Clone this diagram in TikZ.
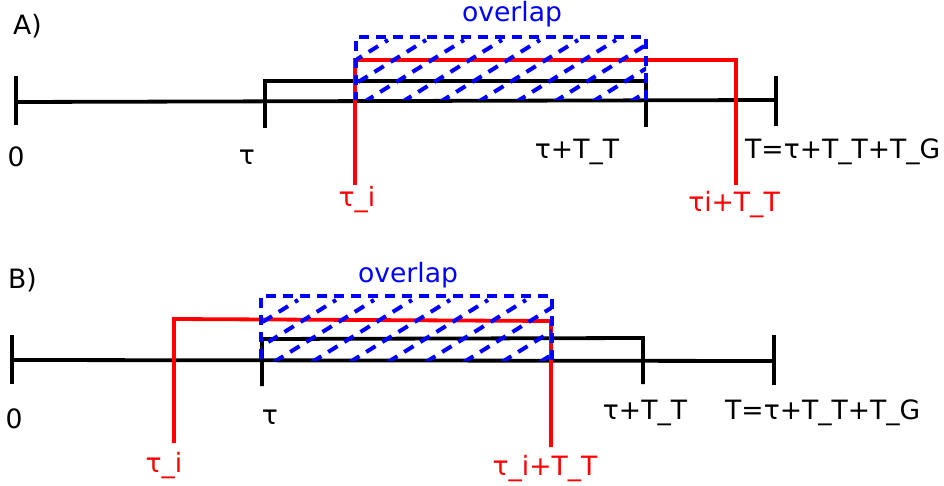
\documentclass[tikz,border=0pt]{standalone}
\usepackage{fontspec}
\setmainfont{DejaVu Sans}
\begin{document}
\begin{tikzpicture}[x=1pt,y=-1pt,
  axis/.style={line width=3.8pt,black},
  win/.style={line width=3.8pt,red},
  ovl/.style={line width=3.8pt,blue,dash pattern=on 10pt off 7pt},
  hatch/.style={line width=4pt,blue,dash pattern=on 11pt off 8pt},
  lbl/.style={font=\fontsize{26.6}{30}\selectfont,inner sep=0pt,anchor=base},
  lblw/.style={lbl,anchor=base west},
]
\useasboundingbox (0,0) rectangle (944,486);

% ---------- panel A ----------
\coordinate (a0) at (16,102);
\coordinate (aE) at (776,100);
\coordinate (a0t) at (16,76);   \coordinate (a0b) at (16,125);
\coordinate (atb) at (265,128); \coordinate (att) at (265,81);
\coordinate (aTt) at (646,81);  \coordinate (aTb) at (646,127);
\coordinate (aEt) at (776,76);  \coordinate (aEb) at (776,126);
\draw[axis] (a0) -- (aE);
\draw[axis] (a0t) -- (a0b);
\draw[axis] (atb) -- (att) -- (aTt) -- (aTb);
\draw[axis] (aEt) -- (aEb);

% transmission window of node i
\coordinate (ai1) at (355,185); \coordinate (ai2) at (355,60);
\coordinate (ai3) at (736,60);  \coordinate (ai4) at (736,185);
\draw[win] (ai1) -- (ai2) -- (ai3) -- (ai4);

% overlap region
\coordinate (ao1) at (356,37); \coordinate (ao2) at (646,100);
\begin{scope}
  \clip (ao1) rectangle (ao2);
  \foreach \s in {250,288,...,650} \draw[hatch] (\s,102) -- ++(100,-62);
\end{scope}
\draw[ovl] (ao2) -- (ao2 |- ao1) -- (ao1) -- (ao1 |- ao2);

\node[lblw] (la) at (13,35) {A)};
\node[lbl] (la0) at (16,167) {0};
\node[lbl] (lat) at (247,165) {τ};
\node[lbl] (laT) at (577,159) {τ+T\_T};
\node[lblw] (laE) at (745,159) {T=τ+T\_T+T\_G};
\node[lbl,text=red] (lai) at (357,207) {τ\_i};
\node[lbl,text=red] (laiT) at (734,212) {τi+T\_T};
\node[lbl,text=blue] (lao) at (512,22) {overlap};

% ---------- panel B ----------
\coordinate (b0) at (12,360);
\coordinate (bE) at (774,361);
\coordinate (b0t) at (12,335);  \coordinate (b0b) at (12,384);
\coordinate (btb) at (262,386); \coordinate (btt) at (262,339);
\coordinate (bTt) at (643,338); \coordinate (bTb) at (643,384);
\coordinate (bEt) at (774,335); \coordinate (bEb) at (774,385);
\draw[axis] (b0) -- (bE);
\draw[axis] (b0t) -- (b0b);
\draw[axis] (btb) -- (btt) -- (bTt) -- (bTb);
\draw[axis] (bEt) -- (bEb);

\coordinate (bi1) at (174,443); \coordinate (bi2) at (174,319);
\coordinate (bi3) at (551,321); \coordinate (bi4) at (551,447);
\draw[win] (bi1) -- (bi2) -- (bi3) -- (bi4);

\coordinate (bo1) at (261,296); \coordinate (bo2) at (552,360);
\begin{scope}
  \clip (bo1) rectangle (bo2);
  \foreach \s in {160,198,...,560} \draw[hatch] (\s,362) -- ++(100,-62);
\end{scope}
\draw[ovl] (bo2) -- (bo2 |- bo1) -- (bo1) -- (bo1 |- bo2);

\node[lblw] (lb) at (8,288) {B)};
\node[lbl] (lb0) at (14,428) {0};
\node[lbl] (lbt) at (270,424) {τ};
\node[lbl] (lbT) at (645,419) {τ+T\_T};
\node[lblw] (lbE) at (725,419) {T=τ+T\_T+T\_G};
\node[lbl,text=red] (lbi) at (164,472) {τ\_i};
\node[lbl,text=red] (lbiT) at (545,475) {τ\_i+T\_T};
\node[lbl,text=blue] (lbo) at (408,282) {overlap};
\end{tikzpicture}
\end{document}
